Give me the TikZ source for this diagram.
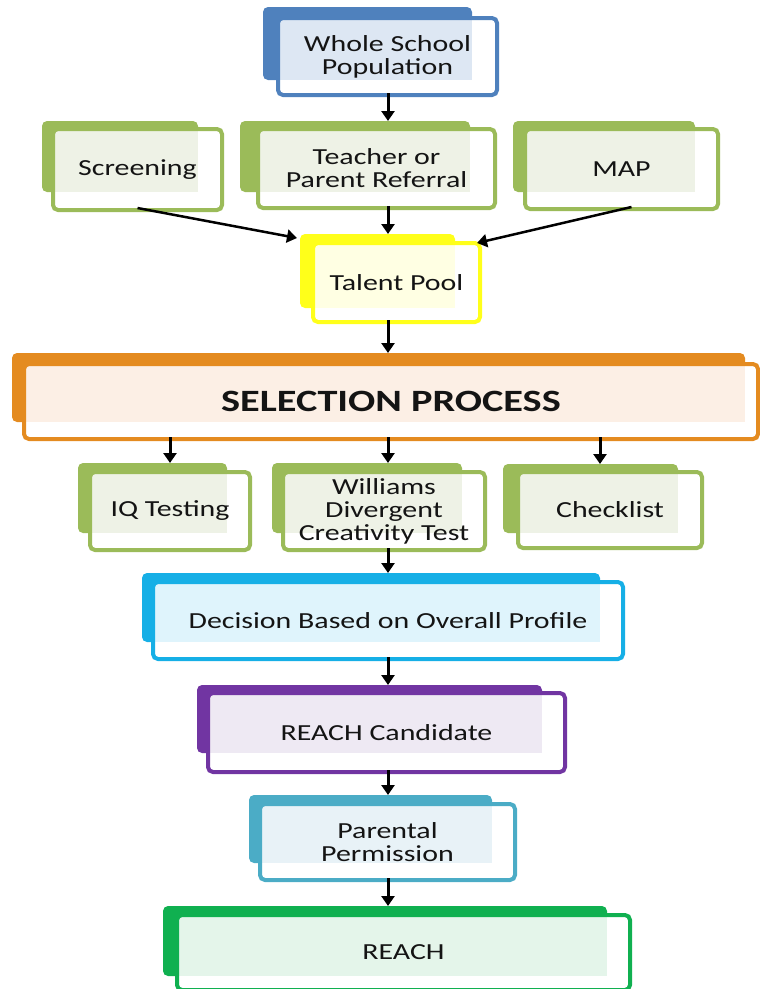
\documentclass[tikz,border=0pt]{standalone}
\usepackage{fontspec}
\setmainfont{Carlito}[FakeStretch=1.3]
\usetikzlibrary{arrows.meta,fit,calc}
\definecolor{blueC}{HTML}{4F81BD}\definecolor{blueT}{HTML}{DDE7F3}
\definecolor{greenC}{HTML}{9BBB59}\definecolor{greenT}{HTML}{EEF2E6}
\definecolor{yellC}{HTML}{FFFF1A}\definecolor{yellT}{HTML}{FFFFE3}
\definecolor{orangeC}{HTML}{E48B20}\definecolor{orangeT}{HTML}{FCEFE5}
\definecolor{cyanC}{HTML}{16AFE6}\definecolor{cyanT}{HTML}{DFF4FC}
\definecolor{purpC}{HTML}{7135A2}\definecolor{purpT}{HTML}{EEE9F3}
\definecolor{tealC}{HTML}{4BACC6}\definecolor{tealT}{HTML}{E8F2F7}
\definecolor{rgreenC}{HTML}{10B050}\definecolor{rgreenT}{HTML}{E4F5EA}
\definecolor{txtC}{HTML}{141414}
\tikzset{
  backbox/.style={inner sep=0pt, outer sep=0pt, rounded corners=5pt},
  frontbox/.style={inner sep=0pt, outer sep=0pt, rounded corners=5pt, line width=4pt},
  txt/.style={align=center, text=txtC, font=\fontsize{23}{23}\selectfont, inner sep=0pt},
  arr/.style={draw=black, line width=3pt, -{Triangle[width=13pt,length=10pt]}},
  darr/.style={draw=black, line width=2.5pt, -{Triangle[width=13pt,length=10pt]}}
}
% #1 name, #2 back NW, #3 back SE, #4 front NW, #5 front SE, #6 colour, #7 tint, #8 text
\newcommand{\tierbox}[8]{%
  \node[backbox, fill=#6, fit={(#2) (#3)}] (#1b) {};
  \fill[white, rounded corners=5pt] (#4) rectangle (#5);
  \fill[#7] (#4) rectangle (#3);
  \node[frontbox, draw=#6, fit={(#4) (#5)}] (#1f) {};
  \node[txt] (#1t) at (#1f.center) {#8};
}
\begin{document}
\begin{tikzpicture}[x=1pt,y=-1pt]
\useasboundingbox (0,0) rectangle (760,989);
\coordinate (c1) at (170,0);
\coordinate (c2) at (388,0);
\coordinate (c3) at (600,0);

\tierbox{ws}{263,7}{472,80}{278,18}{497,95}{blueC}{blueT}{Whole School\\Population}
\tierbox{sc}{42,121}{198,192}{53,129}{222,210}{greenC}{greenT}{Screening}
\tierbox{tr}{240,121}{470,192}{258,129}{495,208}{greenC}{greenT}{Teacher or\\Parent Referral}
\tierbox{mp}{513,121}{695,192}{525,129}{718,209}{greenC}{greenT}{MAP}
\tierbox{tp}{300,234}{455,308}{313,243}{480,322}{yellC}{yellT}{Talent Pool}
\tierbox{sp}{12,353}{745,422}{24,364}{758,439}{orangeC}{orangeT}{\bfseries\fontsize{31}{34}\selectfont SELECTION PROCESS}
\tierbox{iq}{78,463}{227,533}{90,472}{250,550}{greenC}{greenT}{IQ Testing}
\tierbox{wl}{272,463}{462,533}{283,472}{485,550}{greenC}{greenT}{Williams\\Divergent\\Creativity Test}
\tierbox{ck}{503,464}{678,533}{518,472}{702,548}{greenC}{greenT}{Checklist}
\tierbox{db}{142,573}{600,642}{153,582}{623,659}{cyanC}{cyanT}{Decision Based on Overall Profile}
\tierbox{rc}{197,685}{542,753}{208,693}{565,772}{purpC}{purpT}{REACH Candidate}
\tierbox{pp}{249,795}{492,863}{260,804}{515,880}{tealC}{tealT}{Parental\\Permission}
\tierbox{re}{163,906}{607,976}{177,915}{630,990}{rgreenC}{rgreenT}{REACH}

\draw[arr] ([yshift=2pt]wsf.south -| c2) -- (trb.north -| c2);
\draw[arr] ([yshift=2pt]trf.south -| c2) -- (tpb.north -| c2);
\draw[darr] ([yshift=2pt]scf.south) -- ($(tpb.north west)+(-3,4)$);
\draw[darr] ([xshift=10pt,yshift=2pt]mpf.south) -- ($(tpf.north east)+(-3,0)$);
\draw[arr] ([yshift=2pt]tpf.south -| c2) -- (spb.north -| c2);
\draw[arr] ([yshift=2pt]spf.south -| c1) -- (iqb.north -| c1);
\draw[arr] ([yshift=2pt]spf.south -| c2) -- (wlb.north -| c2);
\draw[arr] ([yshift=2pt]spf.south -| c3) -- (ckb.north -| c3);
\draw[arr] ([yshift=2pt]wlf.south -| c2) -- (dbb.north -| c2);
\draw[arr] ([yshift=2pt]dbf.south -| c2) -- (rcb.north -| c2);
\draw[arr] ([yshift=2pt]rcf.south -| c2) -- (ppb.north -| c2);
\draw[arr] ([yshift=2pt]ppf.south -| c2) -- (reb.north -| c2);
\end{tikzpicture}
\end{document}
